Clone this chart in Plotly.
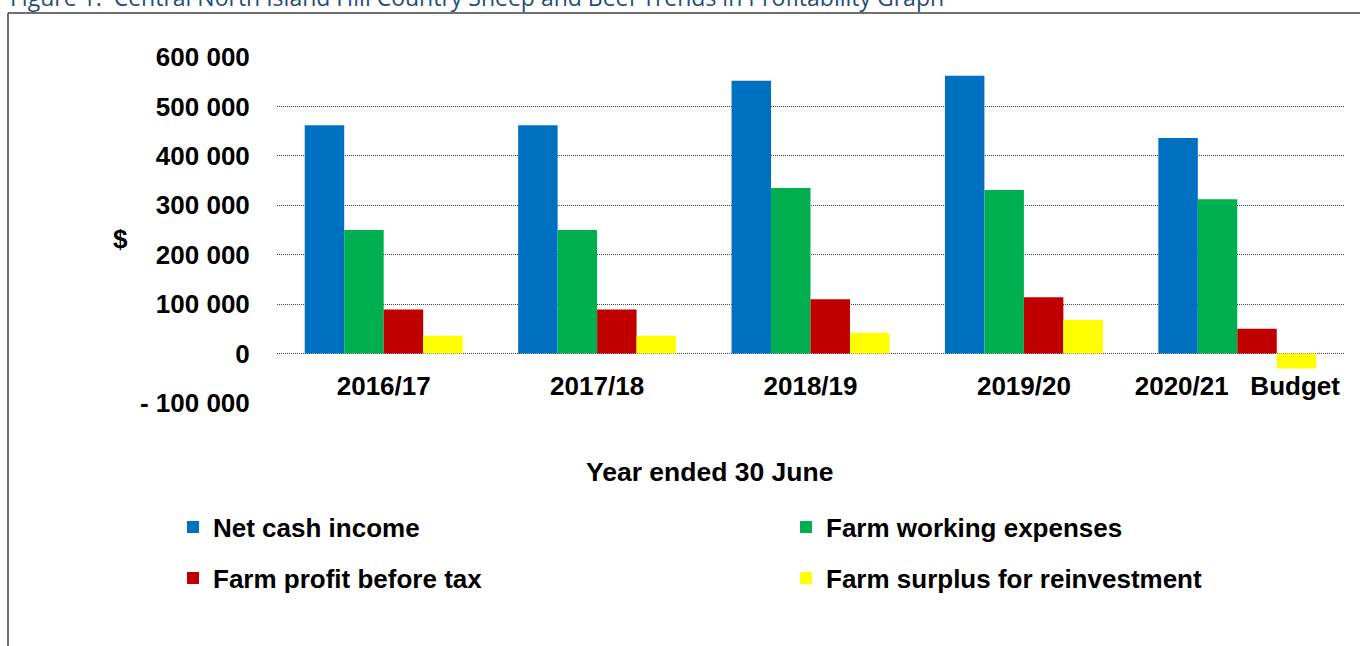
import plotly.graph_objects as go

# ---------------- data ----------------
categories = ["2016/17", "2017/18", "2018/19", "2019/20", "2020/21\u00a0\u00a0\u00a0Budget"]
net_cash_income = [462000, 462000, 552000, 562000, 436000]
farm_working_expenses = [250000, 250000, 335000, 331000, 312000]
farm_profit_before_tax = [89000, 89000, 110000, 114000, 50000]
farm_surplus_reinvestment = [36000, 36000, 42000, 68000, -30000]

series_names = ["Net cash income", "Farm working expenses",
                "Farm profit before tax", "Farm surplus for reinvestment"]
series_values = [net_cash_income, farm_working_expenses,
                 farm_profit_before_tax, farm_surplus_reinvestment]
series_colors = ["#0070C0", "#00B050", "#C00000", "#FFFF00"]

y_tick_vals = [-100000, 0, 100000, 200000, 300000, 400000, 500000, 600000]
y_tick_text = ["- 100 000", "0", "100 000", "200 000", "300 000", "400 000", "500 000", "600 000"]

title_text = "Figure 1.\u00a0 Central North Island Hill Country Sheep and Beef Trends in Profitability Graph"

# ---------------- layout geometry (pixels) ----------------
W, H = 1360, 646
L, R, T, B = 277, 16, 57, 243
PW = W - L - R
PH = H - T - B


def px_x(x):
    return (x - L) / PW


def px_y(y):
    return (H - B - y) / PH


FONT = "Liberation Sans, Arial, sans-serif"
bold = dict(family=FONT, color="black", weight="bold")

fig = go.Figure()
legend_ids = ["legend", "legend2", "legend3", "legend4"]
for name, vals, col, lg in zip(series_names, series_values, series_colors, legend_ids):
    fig.add_trace(go.Bar(x=categories, y=vals, name=name, marker=dict(color=col, line=dict(width=0)),
                         legend=lg))

leg_rows = [527, 578]
leg_cols = [173, 786]
leg_pos = [(leg_cols[0], leg_rows[0]), (leg_cols[1], leg_rows[0]),
           (leg_cols[0], leg_rows[1]), (leg_cols[1], leg_rows[1])]
leg_layout = {}
for lg, (lx, ly) in zip(legend_ids, leg_pos):
    leg_layout[lg] = dict(x=px_x(lx), y=px_y(ly), xanchor="left", yanchor="middle",
                          orientation="v", font=dict(size=26, **bold),
                          bgcolor="rgba(0,0,0,0)", borderwidth=0, itemwidth=30)

fig.update_layout(
    width=W, height=H,
    margin=dict(l=L, r=R, t=T, b=B),
    paper_bgcolor="white", plot_bgcolor="white",
    barmode="group", bargap=0.26, bargroupgap=0,
    showlegend=True,
    **leg_layout,
    xaxis=dict(type="category", anchor="free", position=px_y(354),
               showgrid=False, showline=False, zeroline=False,
               ticks="outside", ticklen=9, tickcolor="rgba(0,0,0,0)",
               tickfont=dict(size=26, **bold)),
    yaxis=dict(range=[-100000, 600000], tickvals=y_tick_vals, ticktext=y_tick_text,
               showgrid=True, gridcolor="#404040", griddash="1px,1px", gridwidth=1,
               zeroline=False, showline=False,
               ticks="outside", ticklen=21, tickcolor="rgba(0,0,0,0)",
               tickfont=dict(size=26, **bold)),
    annotations=[
        dict(text="$", xref="paper", yref="y", x=px_x(120), y=232000,
             xanchor="center", yanchor="middle", showarrow=False,
             font=dict(size=26, **bold)),
        dict(text="Year ended 30 June", xref="paper", yref="paper",
             x=px_x(709), y=px_y(472), xanchor="center", yanchor="middle",
             showarrow=False, font=dict(size=26.5, **bold)),
        dict(text=title_text, xref="paper", yref="paper",
             x=px_x(8), y=px_y(15), xanchor="left", yanchor="bottom",
             showarrow=False, font=dict(size=23, family="Open Sans, sans-serif", color="#1F4E79")),
    ],
    shapes=[
        dict(type="line", xref="paper", yref="paper", x0=px_x(8), x1=px_x(8),
             y0=px_y(13), y1=px_y(660), line=dict(color="#404040", width=1.5)),
        dict(type="line", xref="paper", yref="paper", x0=px_x(8), x1=px_x(1370),
             y0=px_y(13), y1=px_y(13), line=dict(color="#404040", width=1.5)),
    ],
)

fig.write_html("out.html")
